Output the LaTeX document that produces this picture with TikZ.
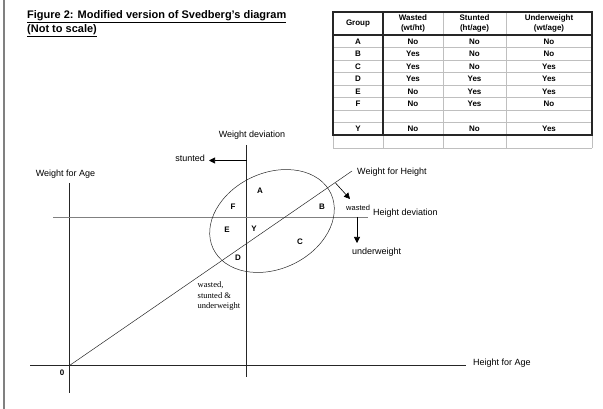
\documentclass[tikz,border=0pt]{standalone}
\usepackage{fontspec}
\setmainfont{Liberation Sans}
\newfontfamily\timesfont{Liberation Serif}
\usetikzlibrary{arrows.meta}

\tikzset{
  axis/.style={black!85, line width=0.6pt},
  devline/.style={gray, line width=0.9pt},
  pointer/.style={-{Triangle[length=6pt,width=6pt]}, line width=0.6pt},
  lbl/.style={font=\fontsize{9}{11}\selectfont, inner sep=0pt},
  grp/.style={font=\bfseries\fontsize{8}{9}\selectfont, inner sep=0pt},
  cell/.style={font=\bfseries\fontsize{8}{9.5}\selectfont, inner sep=0pt, align=center},
  thinrule/.style={gray!50, line width=0.6pt},
  thickrule/.style={black!85, line width=1.2pt}
}

\begin{document}
\begin{tikzpicture}[x=1pt,y=-1pt]
\useasboundingbox (0,0) rectangle (603,409);
\draw[gray, line width=1.5pt] (4,0) -- (4,409);

% title
\node[anchor=north west, align=left, inner sep=0pt, font=\bfseries\fontsize{11}{14}\selectfont] (title) at (27,10.5)
  {\underline{Figure 2: Modified version of Svedberg's diagram}\\\underline{(Not to scale)}};

% table
\foreach \y in {47.5,60,72.5,85,97.5,110,122.5,148} \draw[thinrule] (333,\y) -- (592,\y);
\foreach \x in {443,506} \draw[thinrule] (\x,12) -- (\x,148);
\foreach \x in {333,383,592} \draw[thinrule] (\x,135) -- (\x,148);
\draw[thickrule] (333,12) rectangle (592,135);
\draw[thickrule] (333,35) -- (592,35);
\draw[thickrule] (383,12) -- (383,135);

\node[cell] (hgroup) at (358,23.5) {Group};
\node[cell] (hwasted) at (413,23.5) {Wasted\\(wt/ht)};
\node[cell] (hstunted) at (474.5,23.5) {Stunted\\(ht/age)};
\node[cell] (hunder) at (549,23.5) {Underweight\\(wt/age)};
\foreach \g/\w/\s/\u/\y in {A/No/No/No/41.5, B/Yes/No/No/54, C/Yes/No/Yes/66.5, D/Yes/Yes/Yes/79,
    E/No/Yes/Yes/91.5, F/No/Yes/No/104, Y/No/No/Yes/129} {
  \node[cell] (g\g) at (358,\y) {\g};
  \node[cell] (w\g) at (413,\y) {\w};
  \node[cell] (s\g) at (474.5,\y) {\s};
  \node[cell] (u\g) at (549,\y) {\u};
}

% axes
\coordinate (O) at (69.5,365.5);
\coordinate (wfa top) at (69.5,183);
\coordinate (wfa bottom) at (69.5,393);
\coordinate (hfa left) at (30,365.5);
\coordinate (hfa right) at (466,365.5);
\coordinate (wd top) at (246.5,145);
\coordinate (wd bottom) at (246.5,377);
\coordinate (hd left) at (53,217);
\coordinate (hd right) at (368,217);
\coordinate (wfh end) at (352,171);

\draw[axis] (wfa top) -- (wfa bottom);
\draw[axis] (hfa left) -- (hfa right);
\draw[axis] (wd top) -- (wd bottom);
\draw[devline] (hd left) -- (hd right);
\draw[axis, line width=0.5pt] (O) -- (wfh end);
\draw[axis, line width=0.5pt, rotate around={25:(272,221)}] (272,221) ellipse [x radius=65, y radius=48];

\node[lbl] (wfa) at (65.5,174) {Weight for Age};
\node[lbl] (wd) at (252,135) {Weight deviation};
\node[lbl, anchor=west] (hfa) at (473,363) {Height for Age};
\node[lbl, anchor=west] (wfh) at (357,172) {Weight for Height};
\node[lbl, anchor=west] (hd) at (373,213) {Height deviation};
\node[lbl, anchor=east] (stunted) at (205,158) {stunted};
\node[lbl, anchor=west, font=\fontsize{7.5}{9}\selectfont] (wasted) at (346,208) {wasted};
\node[lbl, anchor=west] (underweight) at (352,252) {underweight};
\node[font=\bfseries\fontsize{8}{9}\selectfont, inner sep=0pt] (zero) at (62,373) {0};
\node[anchor=north west, align=left, inner sep=0pt, font=\timesfont\fontsize{8.5}{10.5}\selectfont] (triple) at (197.5,281.5)
  {wasted,\\stunted \&\\underweight};

% arrows
\coordinate (stunt from) at (246.5,160.5);
\coordinate (stunt to) at (209,160.5);
\coordinate (waste from) at (335.5,183);
\coordinate (waste to) at (350,199);
\coordinate (under from) at (357,217);
\coordinate (under to) at (357,243);
\draw[pointer] (stunt from) -- (stunt to);
\draw[pointer] (waste from) -- (waste to);
\draw[pointer] (under from) -- (under to);

% regions
\node[grp] (A) at (260,191) {A};
\node[grp] (F) at (233,207) {F};
\node[grp] (B) at (322,207) {B};
\node[grp] (E) at (227,230) {E};
\node[grp] (Y) at (254,229) {Y};
\node[grp] (C) at (300,242) {C};
\node[grp] (D) at (238,258) {D};
\end{tikzpicture}
\end{document}
